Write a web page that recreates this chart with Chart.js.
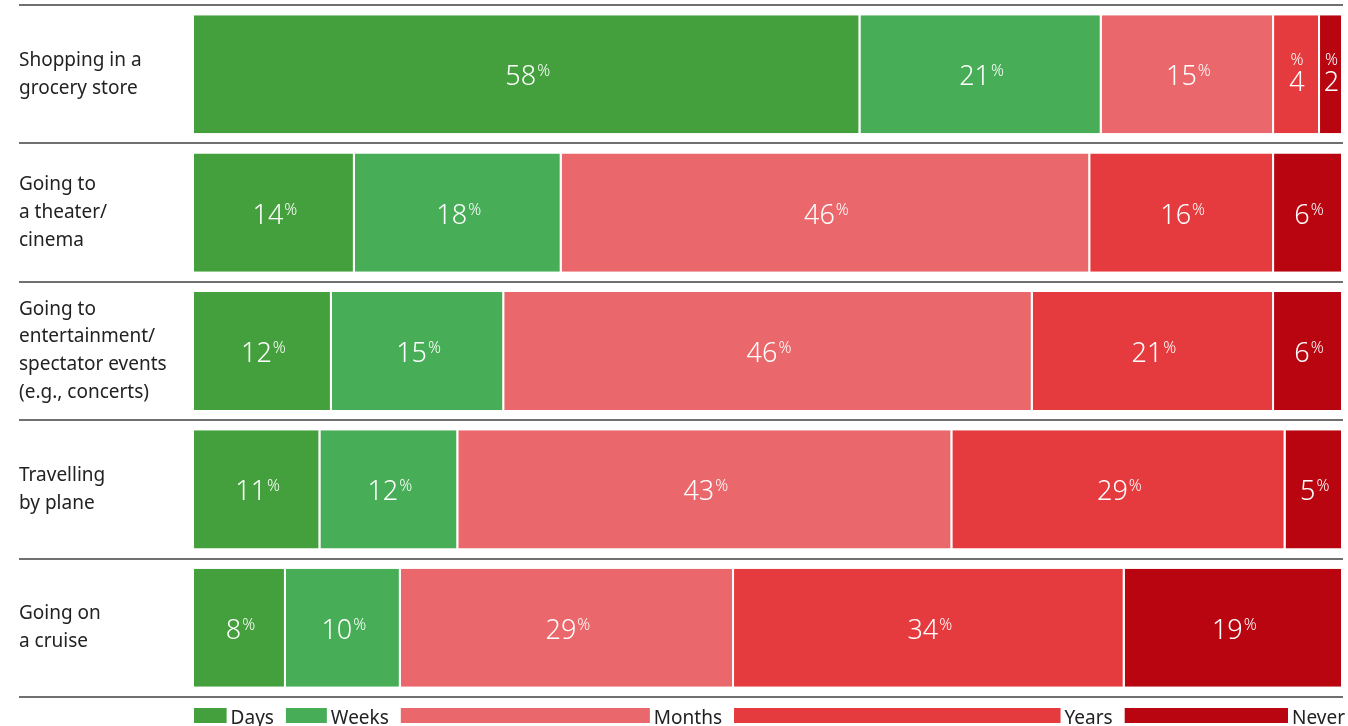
<!DOCTYPE html>
<html>
<head>
<meta charset="utf-8">
<script src="https://cdn.jsdelivr.net/npm/chart.js@4"></script>
<style>
  html, body { margin: 0; padding: 0; background: #fff; }
  #wrap { width: 1348px; height: 726px; }
</style>
</head>
<body>
<div id="wrap"><canvas id="chart" width="1348" height="726"></canvas></div>
<script>
const categories = [
  ["Shopping in a", "grocery store"],
  ["Going to", "a theater/", "cinema"],
  ["Going to", "entertainment/", "spectator events", "(e.g., concerts)"],
  ["Travelling", "by plane"],
  ["Going on", "a cruise"],
];
const seriesNames = ["Days", "Weeks", "Months", "Years", "Never"];
const days   = [58, 14, 12, 11, 8];
const weeks  = [21, 18, 15, 12, 10];
const months = [15, 46, 46, 43, 29];
const years  = [4, 16, 21, 29, 34];
const never  = [2, 6, 6, 5, 19];
const colors = ["#43a03c", "#47ae57", "#ea676b", "#e63b3e", "#b80510"];

const FONT = '"Noto Sans", "Open Sans", sans-serif';

// grey rules between the rows, running under the category labels too
const rowLines = {
  id: "rowLines",
  afterDraw(chart) {
    const { ctx, chartArea } = chart;
    const n = categories.length;
    const step = (chartArea.bottom - chartArea.top) / n;
    ctx.save();
    ctx.strokeStyle = "#707070";
    ctx.lineWidth = 2;
    for (let i = 0; i <= n; i++) {
      const yy = Math.round(chartArea.top + i * step);
      ctx.beginPath();
      ctx.moveTo(19, yy);
      ctx.lineTo(chartArea.right, yy);
      ctx.stroke();
    }
    ctx.restore();
  },
};

// value labels with a small raised % sign
const valueLabels = {
  id: "valueLabels",
  afterDatasetsDraw(chart) {
    const { ctx } = chart;
    ctx.save();
    ctx.fillStyle = "#fff";
    chart.data.datasets.forEach((ds, di) => {
      chart.getDatasetMeta(di).data.forEach((bar, i) => {
        const v = String(ds.data[i]);
        const w = Math.abs(bar.x - bar.base);
        const cx = (bar.x + bar.base) / 2;
        const cy = bar.y;
        ctx.font = `300 27px ${FONT}`;
        const nw = ctx.measureText(v).width;
        ctx.font = `300 16px ${FONT}`;
        const pw = ctx.measureText("%").width;
        ctx.textBaseline = "alphabetic";
        if (w > nw + pw + 24) {
          const x0 = cx - (nw + pw) / 2;
          ctx.textAlign = "left";
          ctx.font = `300 27px ${FONT}`;
          ctx.fillText(v, x0, cy + 11);
          ctx.font = `300 16px ${FONT}`;
          ctx.fillText("%", x0 + nw + 1, cy + 2);
        } else {
          ctx.textAlign = "center";
          ctx.font = `300 27px ${FONT}`;
          ctx.fillText(v, cx, cy + 17);
          ctx.font = `300 16px ${FONT}`;
          ctx.fillText("%", cx, cy - 9);
        }
      });
    });
    ctx.restore();
  },
};

// legend laid out under the last row's segments
const rowLegend = {
  id: "rowLegend",
  afterDraw(chart) {
    const { ctx } = chart;
    const last = categories.length - 1;
    ctx.save();
    ctx.font = `19px ${FONT}`;
    ctx.textBaseline = "alphabetic";
    ctx.textAlign = "right";
    chart.data.datasets.forEach((ds, di) => {
      const bar = chart.getDatasetMeta(di).data[last];
      const start = Math.min(bar.base, bar.x);
      const end = Math.max(bar.base, bar.x);
      const tw = ctx.measureText(ds.label).width;
      const textRight = di === chart.data.datasets.length - 1 ? end + 2 : end - 12;
      const boxEnd = textRight - tw - 4;
      ctx.fillStyle = ds.backgroundColor;
      ctx.fillRect(start, 708, boxEnd - start, 15);
      ctx.fillStyle = "#222";
      ctx.fillText(ds.label, textRight, 724);
    });
    ctx.restore();
  },
};

const seriesData = [days, weeks, months, years, never];

new Chart(document.getElementById("chart"), {
  type: "bar",
  data: {
    labels: categories,
    datasets: seriesNames.map((name, i) => ({
      label: name,
      data: seriesData[i],
      backgroundColor: colors[i],
      borderColor: "#fff",
      borderWidth: { top: 0, bottom: 0, left: 0, right: 2 },
      categoryPercentage: 1,
      barPercentage: 0.853,
    })),
  },
  options: {
    indexAxis: "y",
    responsive: false,
    animation: false,
    layout: { padding: { top: 5, bottom: 29, left: 19, right: 5 } },
    plugins: { legend: { display: false }, tooltip: { enabled: false } },
    scales: {
      x: { stacked: true, min: 0, max: 100, display: false },
      y: {
        stacked: true,
        grid: { display: false },
        border: { display: false },
        afterFit(s) {
          s.width = 175;
          s.paddingTop = 0;
          s.paddingBottom = 0;
        },
        ticks: {
          crossAlign: "far",
          color: "#222",
          font: { family: FONT, size: 19, lineHeight: 1.47 },
        },
      },
    },
  },
  plugins: [rowLines, valueLabels, rowLegend],
});
</script>
</body>
</html>
